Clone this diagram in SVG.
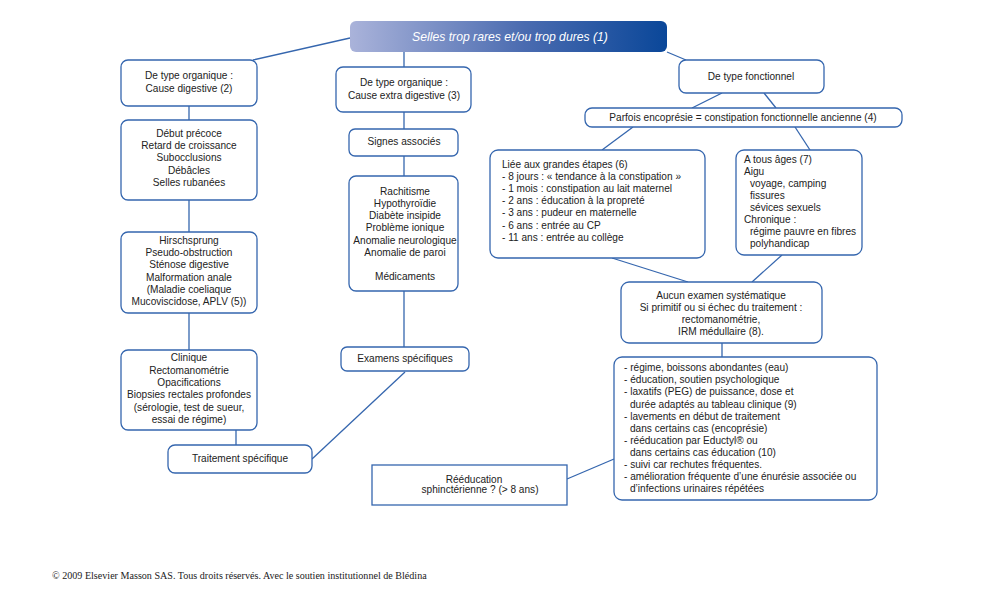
<svg xmlns="http://www.w3.org/2000/svg" width="1000" height="606" viewBox="0 0 1000 606">
<defs>
<linearGradient id="tg" x1="0" y1="0" x2="1" y2="0">
<stop offset="0" stop-color="#aab3da"/>
<stop offset="0.55" stop-color="#4a6bb0"/>
<stop offset="1" stop-color="#0a4799"/>
</linearGradient>
</defs>
<style>
.b{fill:#fff;stroke:#3566ae;stroke-width:1.3}
.c line{stroke:#3566ae;stroke-width:1.3}
text{font-family:"Liberation Sans",Arial,sans-serif;font-size:10.1px;fill:#222}
.m{text-anchor:middle}
.t{font-size:12.2px;fill:#fff;font-style:italic;text-anchor:middle}
.f{font-family:"Liberation Serif","Times New Roman",serif;font-size:10.1px;fill:#222}
</style>
<rect width="1000" height="606" fill="#fff"/>
<g class="c" id="connectors">
<line x1="350" y1="38" x2="253" y2="60"/>
<line x1="404" y1="52" x2="404" y2="67"/>
<line x1="667" y1="52" x2="686" y2="60"/>
<line x1="189" y1="106" x2="189" y2="120"/>
<line x1="189" y1="200" x2="189" y2="232"/>
<line x1="189" y1="313" x2="189" y2="350"/>
<line x1="236" y1="430" x2="236" y2="445"/>
<line x1="312" y1="459" x2="405" y2="372"/>
<line x1="404" y1="112" x2="404" y2="129"/>
<line x1="404" y1="156" x2="404" y2="176"/>
<line x1="404" y1="291" x2="404" y2="347"/>
<line x1="722" y1="93" x2="692" y2="108"/>
<line x1="764" y1="93" x2="776" y2="108"/>
<line x1="633" y1="127" x2="602" y2="150"/>
<line x1="795" y1="127" x2="810" y2="150"/>
<line x1="612" y1="258" x2="688" y2="282"/>
<line x1="782" y1="255" x2="752" y2="282"/>
<line x1="722" y1="343" x2="722" y2="357"/>
<line x1="567" y1="479" x2="614" y2="459"/>
</g>
<g id="title">
<rect x="350" y="21" width="317" height="31" rx="6" fill="url(#tg)"/>
<text class="t" x="510" y="41">Selles trop rares et/ou trop dures (1)</text>
</g>
<g id="org-dig">
<rect class="b" x="121" y="60" width="136" height="46" rx="7"/>
<text class="m" x="189" y="79">De type organique :</text>
<text class="m" x="189" y="92">Cause digestive (2)</text>
</g>
<g id="debut">
<rect class="b" x="121" y="120" width="136" height="80" rx="7"/>
<text class="m" x="189" y="137">Début précoce</text>
<text class="m" x="189" y="149">Retard de croissance</text>
<text class="m" x="189" y="161">Subocclusions</text>
<text class="m" x="189" y="174">Débâcles</text>
<text class="m" x="189" y="186">Selles rubanées</text>
</g>
<g id="hirsch">
<rect class="b" x="121" y="232" width="136" height="81" rx="7"/>
<text class="m" x="189" y="244">Hirschsprung</text>
<text class="m" x="189" y="256">Pseudo-obstruction</text>
<text class="m" x="189" y="268">Sténose digestive</text>
<text class="m" x="189" y="281">Malformation anale</text>
<text class="m" x="189" y="293">(Maladie coeliaque</text>
<text class="m" x="189" y="305">Mucoviscidose, APLV (5))</text>
</g>
<g id="clinique">
<rect class="b" x="121" y="350" width="136" height="80" rx="7"/>
<text class="m" x="189" y="361">Clinique</text>
<text class="m" x="189" y="374">Rectomanométrie</text>
<text class="m" x="189" y="386">Opacifications</text>
<text class="m" x="189" y="398">Biopsies rectales profondes</text>
<text class="m" x="189" y="411">(sérologie, test de sueur,</text>
<text class="m" x="189" y="423">essai de régime)</text>
</g>
<g id="traitement">
<rect class="b" x="168" y="445" width="144" height="28" rx="7"/>
<text class="m" x="240" y="462">Traitement spécifique</text>
</g>
<g id="org-extra">
<rect class="b" x="336" y="67" width="135" height="45" rx="7"/>
<text class="m" x="404" y="86">De type organique :</text>
<text class="m" x="404" y="99">Cause extra digestive (3)</text>
</g>
<g id="signes">
<rect class="b" x="349" y="129" width="109" height="27" rx="6"/>
<text class="m" x="404" y="145">Signes associés</text>
</g>
<g id="rachitisme">
<rect class="b" x="349" y="176" width="109" height="115" rx="7"/>
<text class="m" x="405" y="195">Rachitisme</text>
<text class="m" x="405" y="207">Hypothyroïdie</text>
<text class="m" x="405" y="219">Diabète insipide</text>
<text class="m" x="405" y="231">Problème ionique</text>
<text class="m" x="405" y="244">Anomalie neurologique</text>
<text class="m" x="405" y="256">Anomalie de paroi</text>
<text class="m" x="405" y="280">Médicaments</text>
</g>
<g id="examens">
<rect class="b" x="341" y="347" width="128" height="24" rx="6"/>
<text class="m" x="405" y="362">Examens spécifiques</text>
</g>
<g id="fonctionnel">
<rect class="b" x="679" y="60" width="145" height="33" rx="7"/>
<text class="m" x="751" y="80">De type fonctionnel</text>
</g>
<g id="parfois">
<rect class="b" x="585" y="108" width="317" height="19" rx="7"/>
<text class="m" x="743" y="121">Parfois encoprésie = constipation fonctionnelle ancienne (4)</text>
</g>
<g id="liee">
<rect class="b" x="490" y="150" width="215" height="108" rx="8"/>
<text x="502" y="168">Liée aux grandes étapes (6)</text>
<text x="502" y="180">- 8 jours : « tendance à la constipation »</text>
<text x="502" y="192">- 1 mois : constipation au lait maternel</text>
<text x="502" y="204">- 2 ans : éducation à la propreté</text>
<text x="502" y="216">- 3 ans : pudeur en maternelle</text>
<text x="502" y="229">- 6 ans : entrée au CP</text>
<text x="502" y="241">- 11 ans : entrée au collège</text>
</g>
<g id="tousages">
<rect class="b" x="736" y="150" width="126" height="105" rx="8"/>
<text x="744" y="163">A tous âges (7)</text>
<text x="744" y="175">Aigu</text>
<text x="750" y="187">voyage, camping</text>
<text x="750" y="199">fissures</text>
<text x="750" y="211">sévices sexuels</text>
<text x="744" y="223">Chronique :</text>
<text x="750" y="235">régime pauvre en fibres</text>
<text x="750" y="247">polyhandicap</text>
</g>
<g id="aucun">
<rect class="b" x="621" y="282" width="201" height="61" rx="8"/>
<text class="m" x="721" y="299">Aucun examen systématique</text>
<text class="m" x="721" y="311">Si primitif ou si échec du traitement :</text>
<text class="m" x="721" y="323">rectomanométrie,</text>
<text class="m" x="721" y="335">IRM médullaire (8).</text>
</g>
<g id="regime">
<rect class="b" x="614" y="357" width="263" height="143" rx="8"/>
<text x="624" y="371">- régime, boissons abondantes (eau)</text>
<text x="624" y="383">- éducation, soutien psychologique</text>
<text x="624" y="395">- laxatifs (PEG) de puissance, dose et</text>
<text x="630" y="408">durée adaptés au tableau clinique (9)</text>
<text x="624" y="420">- lavements en début de traitement</text>
<text x="630" y="432">dans certains cas (encoprésie)</text>
<text x="624" y="444">- rééducation par Eductyl® ou</text>
<text x="630" y="456">dans certains cas éducation (10)</text>
<text x="624" y="468">- suivi car rechutes fréquentes.</text>
<text x="624" y="480">- amélioration fréquente d’une énurésie associée ou</text>
<text x="630" y="492">d’infections urinaires répétées</text>
</g>
<g id="reeducation">
<rect class="b" x="372" y="465" width="195" height="40"/>
<text class="m" x="474" y="483">Rééducation</text>
<text class="m" x="480" y="493">sphinctérienne ? (&gt; 8 ans)</text>
</g>
<text class="f" x="52" y="579">© 2009 Elsevier Masson SAS. Tous droits réservés. Avec le soutien institutionnel de Blédina</text>
</svg>
